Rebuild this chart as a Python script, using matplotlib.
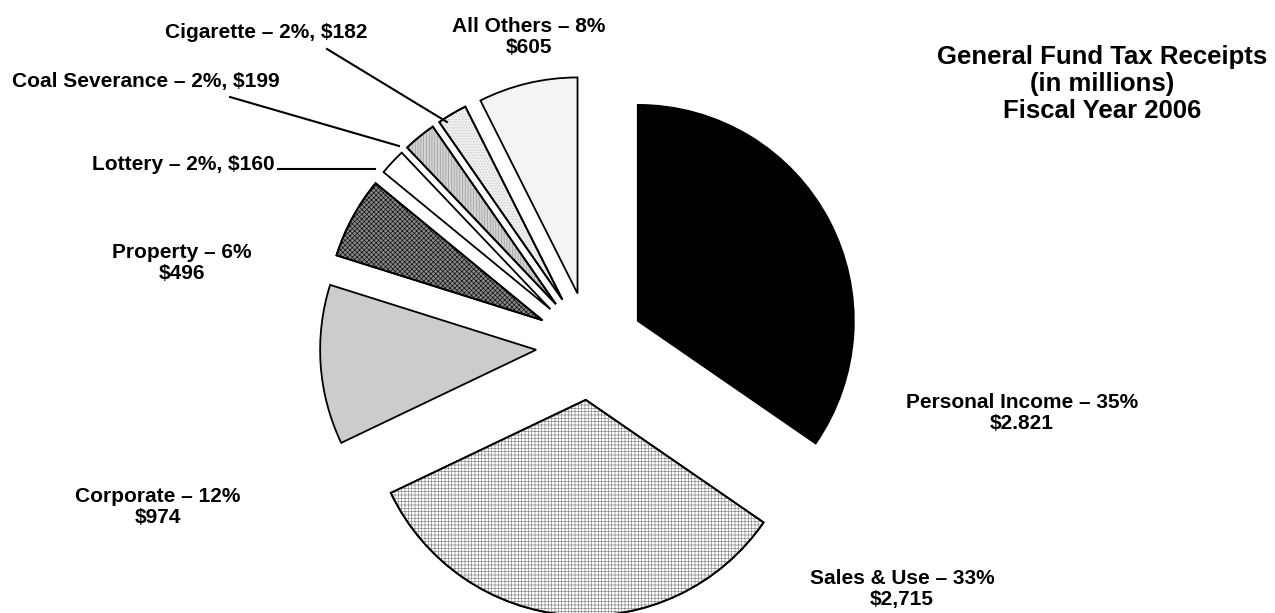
import matplotlib
matplotlib.use("Agg")
import matplotlib.pyplot as plt
from matplotlib.patches import Wedge

# ---- data ----
categories = ["Personal Income", "Sales & Use", "Corporate", "Property",
              "Lottery", "Coal Severance", "Cigarette", "All Others"]
values = [2821, 2715, 974, 496, 160, 199, 182, 605]
percents = [35, 33, 12, 6, 2, 2, 2, 8]
value_labels = ["$2.821", "$2,715", "$974", "$496", "$160", "$199", "$182", "$605"]
title_lines = ["General Fund Tax Receipts", "(in millions)", "Fiscal Year 2006"]

# ---- styles ----
faces = ["#000000", "#ffffff", "#cccccc", "#8a8a8a", "#ffffff", "#d4d4d4", "#efefef", "#f4f4f4"]
hatches = [None, "+++++", None, "xxxxxxx", None, "||||||", "......", None]
hatch_cols = [None, "#8c8c8c", None, "#111111", None, "#9a9a9a", "#c8c8c8", None]

W, H = 1275, 613
plt.rcParams['font.family'] = ['Liberation Sans', 'DejaVu Sans']
plt.rcParams['hatch.linewidth'] = 0.5
fig = plt.figure(figsize=(W / 100, H / 100), dpi=100)
ax = fig.add_axes([0, 0, 1, 1])

cx, cy = 590, H - 346
wedges, _ = ax.pie(values, startangle=90, counterclock=False, radius=216,
                   center=(cx, cy), explode=[54] * len(values), colors=faces,
                   wedgeprops=dict(edgecolor="black", linewidth=1.3))
for w, h, hc in zip(wedges, hatches, hatch_cols):
    if h:
        ov = Wedge(w.center, w.r, w.theta1, w.theta2, facecolor="none",
                   edgecolor=hc, linewidth=0, hatch=h, zorder=w.get_zorder() + 0.1)
        ax.add_patch(ov)
        ol = Wedge(w.center, w.r, w.theta1, w.theta2, facecolor="none",
                   edgecolor="black", linewidth=1.3, zorder=w.get_zorder() + 0.2)
        ax.add_patch(ol)

ax.set_xlim(0, W)
ax.set_ylim(0, H)
ax.set_aspect("equal")
ax.axis("off")

fs = 15
def txt(x, y, s, **kw):
    ax.text(x, H - y, s, ha="center", va="center", fontsize=kw.pop("fontsize", fs),
            fontweight="bold", linespacing=kw.pop("linespacing", 1.1), **kw)

def lab(i, two_line=True):
    if two_line:
        return f"{categories[i]} \u2013 {percents[i]}%\n{value_labels[i]}"
    return f"{categories[i]} \u2013 {percents[i]}%, {value_labels[i]}"

txt(1022, 413, lab(0))
txt(902, 589, lab(1))
txt(158, 507, lab(2))
txt(182, 263, lab(3))
ax.text(275, H - 164, lab(4, False), ha="right", va="center", fontsize=fs, fontweight="bold")
txt(146, 81, lab(5, False))
txt(266, 33, lab(6, False))
txt(529, 37, lab(7))

txt(1102, 84, "\n".join(title_lines), fontsize=18.5, linespacing=1.15)

# leader lines
def leader(x0, y0, x1, y1):
    ax.plot([x0, x1], [H - y0, H - y1], color="black", linewidth=1.5, zorder=5)

leader(278, 169, 375, 169)
leader(230, 97, 399, 146)
leader(327, 49, 447, 122)

fig.savefig("out.png", dpi=100, facecolor="white")
